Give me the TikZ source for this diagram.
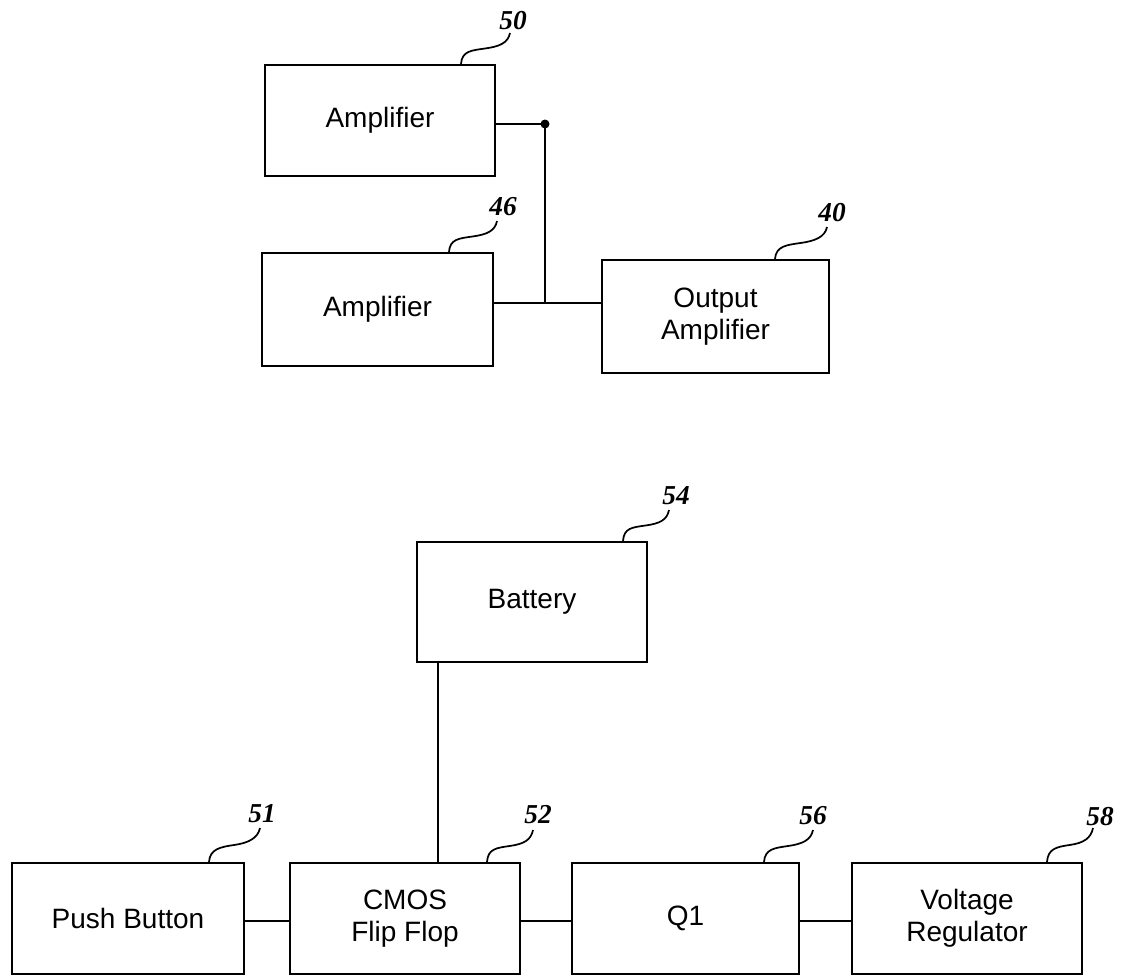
\documentclass[tikz,border=0pt]{standalone}
\usepackage{fontspec}
\setmainfont{Liberation Sans}
\newfontfamily\lblfont{Liberation Serif}
\usetikzlibrary{calc}
\newdimen\px \px=0.75pt
\newcommand{\leadcurve}[2]{\draw[leader] (#1) .. controls +(1,-13) and +(-14,2) .. ($(#1)!0.5!(#2)$) .. controls +(14,-2) and +(-2,10) .. (#2);}
\begin{document}
\begin{tikzpicture}[x=0.75pt,y=-0.75pt,
  box/.style={draw, line width=1.7pt, minimum width=230\px, minimum height=111\px, inner sep=0pt, align=center, font=\fontsize{21}{24}\selectfont},
  wire/.style={line width=1.4pt},
  ref/.style={font=\lblfont\itshape\bfseries\fontsize{20.5}{22}\selectfont, inner sep=0pt},
  leader/.style={line width=1.3pt}]
\useasboundingbox (0,0) rectangle (1125,978);

% boxes
\node[box, minimum height=111\px] (amp50) at (380,120.5) {Amplifier};
\node[box, minimum width=231\px, minimum height=113\px] (amp46) at (377.5,309.5) {Amplifier};
\node[box, minimum width=227\px, minimum height=113\px] (out) at (715.5,316.5) {Output\\Amplifier};
\node[box, minimum height=120\px] (bat) at (532,602) {Battery};
\node[box, minimum width=232\px] (push) at (128,918.5) {Push Button};
\node[box] (cmos) at (405,918.5) {CMOS\\Flip Flop};
\node[box, minimum width=227\px] (q1) at (685.5,918.5) {Q1};
\node[box] (vr) at (967,918.5) {Voltage\\Regulator};

% reference numerals
\node[ref] (l50) at (513,21) {50};
\node[ref] (l46) at (503,207) {46};
\node[ref] (l40) at (832,213) {40};
\node[ref] (l54) at (676,496) {54};
\node[ref] (l51) at (262,814) {51};
\node[ref] (l52) at (538,815) {52};
\node[ref] (l56) at (813,816) {56};
\node[ref] (l58) at (1100,817) {58};

% leader lines
\coordinate (s50) at ([xshift=81\px]amp50.north);
\coordinate (e50) at ([shift={(-3,12)}]l50.center);
\leadcurve{s50}{e50}
\coordinate (s46) at ([xshift=71.5\px]amp46.north);
\coordinate (e46) at ([shift={(-6,14)}]l46.center);
\leadcurve{s46}{e46}
\coordinate (s40) at ([xshift=59.5\px]out.north);
\coordinate (e40) at ([shift={(-5,14)}]l40.center);
\leadcurve{s40}{e40}
\coordinate (s54) at ([xshift=91\px]bat.north);
\coordinate (e54) at ([shift={(-7,14)}]l54.center);
\leadcurve{s54}{e54}
\coordinate (s51) at ([xshift=81\px]push.north);
\coordinate (e51) at ([shift={(-2,14)}]l51.center);
\leadcurve{s51}{e51}
\coordinate (s52) at ([xshift=82\px]cmos.north);
\coordinate (e52) at ([shift={(-5,15)}]l52.center);
\leadcurve{s52}{e52}
\coordinate (s56) at ([xshift=78.5\px]q1.north);
\coordinate (e56) at ([shift={(0,14)}]l56.center);
\leadcurve{s56}{e56}
\coordinate (s58) at ([xshift=80\px]vr.north);
\coordinate (e58) at ([shift={(-7,11)}]l58.center);
\leadcurve{s58}{e58}

% wiring, top group
\coordinate (j1) at (545,124);
\coordinate (j2) at (545,303);
\draw[wire] (amp50.east |- j1) -- (j1) -- (j2);
\draw[wire] (amp46.east |- j2) -- (out.west |- j2);
\fill (j1) circle (4.5\px);

% wiring, bottom group
\coordinate (bx) at (438,0);
\draw[wire] (bat.south -| bx) -- (cmos.north -| bx);
\coordinate (row) at (0,921);
\draw[wire] (push.east |- row) -- (cmos.west |- row);
\draw[wire] (cmos.east |- row) -- (q1.west |- row);
\draw[wire] (q1.east |- row) -- (vr.west |- row);
\end{tikzpicture}
\end{document}
